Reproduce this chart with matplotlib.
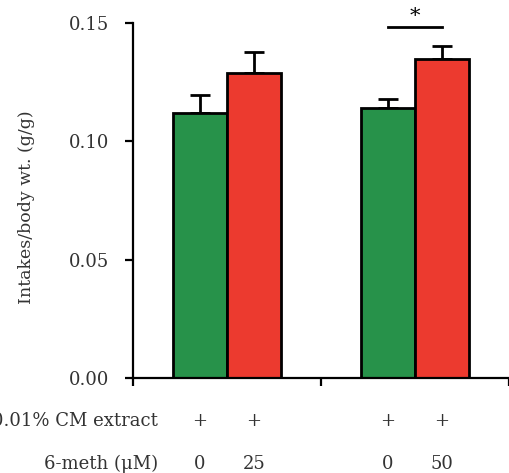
import numpy as np
import matplotlib.pyplot as plt
import matplotlib.transforms as mtransforms

# data
groups = [0.5, 1.5]
means_ctrl = [0.112, 0.114]
sem_ctrl = [0.0076, 0.0040]
means_meth = [0.129, 0.1346]
sem_meth = [0.0086, 0.0055]
cm_row = ['+', '+', '+', '+']
meth_row = ['0', '25', '0', '50']
yticks = [0.00, 0.05, 0.10, 0.15]

green = '#27924A'
red = '#EC3A2F'
w = 0.287
fs = 13

plt.rcParams['font.family'] = ['DejaVu Serif']

fig = plt.figure(figsize=(5.09, 4.73), dpi=100)
ax = fig.add_axes([133 / 509, 95 / 473, 376 / 509, 355 / 473])

x_ctrl = np.array(groups) - w / 2
x_meth = np.array(groups) + w / 2

ax.errorbar(x_ctrl, means_ctrl, yerr=[np.zeros(2), sem_ctrl], fmt='none',
            ecolor='black', elinewidth=2, capsize=7, capthick=2, zorder=1)
ax.errorbar(x_meth, means_meth, yerr=[np.zeros(2), sem_meth], fmt='none',
            ecolor='black', elinewidth=2, capsize=7, capthick=2, zorder=1)
ax.bar(x_ctrl, means_ctrl, width=w, color=green, edgecolor='black', linewidth=2, zorder=2)
ax.bar(x_meth, means_meth, width=w, color=red, edgecolor='black', linewidth=2, zorder=2)

# significance marker
ax.plot([x_ctrl[1], x_meth[1]], [0.1483, 0.1483], color='black', lw=2, clip_on=False)
ax.text(groups[1], 0.1486, '*', ha='center', va='bottom', fontsize=15, clip_on=False)

ax.set_xlim(0, 2)
ax.set_ylim(0, 0.15)
ax.set_yticks(yticks)
ax.set_yticklabels([f'{v:.2f}' for v in yticks], fontsize=fs, color='#333333')
ax.set_xticks([0, 1, 2])
ax.set_xticklabels([])
ax.spines['top'].set_visible(False)
ax.spines['right'].set_visible(False)
ax.spines['left'].set_linewidth(1.6)
ax.spines['bottom'].set_linewidth(1.6)
ax.tick_params(axis='y', length=6, width=1.6, pad=11)
ax.tick_params(axis='x', length=6, width=1.6)
ax.set_ylabel('Intakes/body wt. (g/g)', fontsize=12.5, color='#333333', labelpad=10)
ax.yaxis.set_label_coords(-98 / 376, 0.48)

# condition rows below the axis
trans = mtransforms.blended_transform_factory(ax.transData, fig.transFigure)
xs = list(x_ctrl[:1]) + list(x_meth[:1]) + list(x_ctrl[1:]) + list(x_meth[1:])
for xv, s in zip(xs, cm_row):
    ax.text(xv, 1 - 421 / 473, s, transform=trans, ha='center', va='center',
            fontsize=fs, color='#333333')
for xv, s in zip(xs, meth_row):
    ax.text(xv, 1 - 464 / 473, s, transform=trans, ha='center', va='center',
            fontsize=fs, color='#333333')
fig.text(158 / 509, 1 - 421 / 473, '0.01% CM extract', ha='right', va='center',
         fontsize=fs, color='#333333')
fig.text(158 / 509, 1 - 464 / 473, '6-meth (\u03bcM)', ha='right', va='center',
         fontsize=fs, color='#333333')

fig.savefig('out.png', dpi=100)
